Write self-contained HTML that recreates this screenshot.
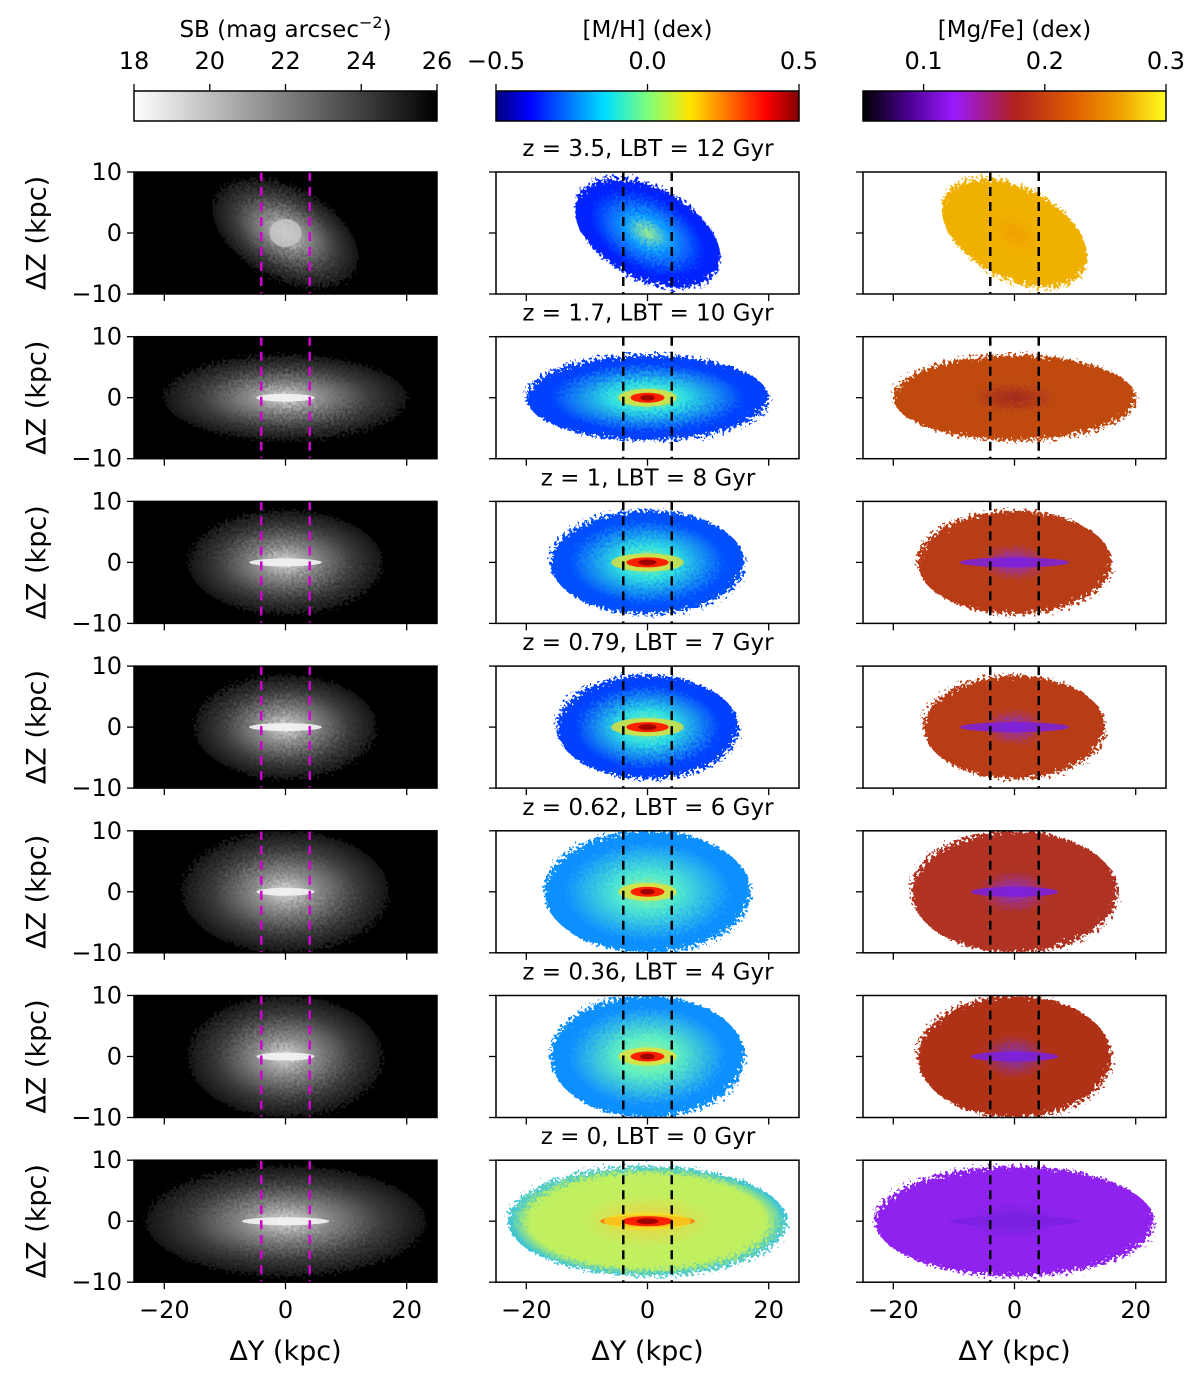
<!DOCTYPE html>
<html><head><meta charset="utf-8"><style>
html,body{margin:0;padding:0;background:#fff;}
svg{display:block;font-family:"DejaVu Sans","Liberation Sans",sans-serif;}
</style></head><body>
<svg id="fig" width="1200" height="1380" viewBox="0 0 1200 1380" xmlns="http://www.w3.org/2000/svg">
<defs>
<linearGradient id="cb-gray" x1="0" x2="1"><stop offset="0" stop-color="#fff"/><stop offset="1" stop-color="#000"/></linearGradient>
<linearGradient id="cb-jet" x1="0" x2="1">
<stop offset="0" stop-color="#00007f"/><stop offset="0.11" stop-color="#0000ff"/><stop offset="0.36" stop-color="#00e0ff"/><stop offset="0.5" stop-color="#7dff7a"/><stop offset="0.64" stop-color="#ffe600"/><stop offset="0.89" stop-color="#ff0000"/><stop offset="1" stop-color="#7f0000"/></linearGradient>
<linearGradient id="cb-gnu" x1="0" x2="1">
<stop offset="0" stop-color="#000000"/><stop offset="0.15" stop-color="#4a0090"/><stop offset="0.3" stop-color="#9a1aff"/><stop offset="0.5" stop-color="#b02020"/><stop offset="0.7" stop-color="#e06000"/><stop offset="0.85" stop-color="#f0a000"/><stop offset="1" stop-color="#ffff20"/></linearGradient>
<filter id="rough" x="-10%" y="-10%" width="120%" height="120%">
<feTurbulence type="fractalNoise" baseFrequency="0.35" numOctaves="2" seed="3" result="n"/>
<feDisplacementMap in="SourceGraphic" in2="n" scale="16"/>
</filter>
</defs>
<g id="root"></g>
</svg>
<script>
// data
const redshifts = ["3.5","1.7","1","0.79","0.62","0.36","0"];
const lbts = ["12","10","8","7","6","4","0"];
const rowRx = [13, 20, 16, 15, 17, 16, 23];      // kpc, extent of galaxy
const rowRy = [7.5, 7, 8.5, 8.5, 10, 10, 9];
const rowCx = [0, 0, 0, 0, 0, 0, 0];
const rowTilt = [28, 0, 0, 0, 0, 0, 0];
const coreRx = [3, 4, 5, 5, 4, 4, 6];
const metalEdge = ["#0020ff","#0040ff","#0050ff","#0040ff","#1090ff","#1090ff","#30c0e0"];
const metalMid = ["#10a0ff","#30e0e0","#30e0e0","#30e0e0","#50e8d0","#60f0c0","#c0f060"];
const mgfeFill = ["#f0b000","#c04a10","#b83c18","#b83c18","#b03020","#b03018","#9020f0"];
const mgfeCore = ["#f0a000","#a02820","#9030d0","#9030d0","#9030d0","#8030c0","#7020d8"];
const xTicks = [-20, 0, 20];
const yTicks = [10, 0, -10];
const sbTicks = [18,20,22,24,26];
const mhTicks = [-0.5,0.0,0.5];
const mgTicks = [0.1,0.2,0.3];

const NS="http://www.w3.org/2000/svg";
const root=document.getElementById('root');
const defs=document.querySelector('defs');
function mk(tag,attrs,parent){const e=document.createElementNS(NS,tag);for(const k in attrs)e.setAttribute(k,attrs[k]);(parent||root).appendChild(e);return e;}
const colL=[134,496,863], W=303, H=122;
function rowT(r){return 172+r*164.7;}
function sx(c,v){return colL[c]+(v+25)/50*W;}
function sy(r,v){return rowT(r)+(10-v)/20*H;}
function txt(x,y,s,size,anchor,parent){const t=mk('text',{x:x,y:y,'font-size':size,'text-anchor':anchor||'middle',fill:'#000'},parent);t.textContent=s;return t;}

// colorbars
const cbs=[{g:'cb-gray',t:"SB (mag arcsec",ticks:sbTicks,lo:18,hi:26,fmt:v=>String(v)},
 {g:'cb-jet',t:"[M/H] (dex)",ticks:mhTicks,lo:-0.5,hi:0.5,fmt:v=>v<0?"\u22120.5":v.toFixed(1)},
 {g:'cb-gnu',t:"[Mg/Fe] (dex)",ticks:mgTicks,lo:0.05,hi:0.3,fmt:v=>v.toFixed(1)}];
cbs.forEach((cb,c)=>{
 const g=mk('g',{});
 
 
 mk('rect',{x:colL[c],y:91,width:W,height:30,fill:'url(#'+cb.g+')',stroke:'#000','stroke-width':1.5},g);
 cb.ticks.forEach(v=>{const x=colL[c]+(v-cb.lo)/(cb.hi-cb.lo)*W;mk('line',{x1:x,x2:x,y1:84,y2:91,stroke:'#000','stroke-width':1.3},g);txt(x,69,cb.fmt(v),24,'middle',g);});
 const t=txt(colL[c]+W/2,37,cb.t,23,'middle',g);
 if(c===0){const s=mk('tspan',{'dy':-9,'font-size':16},t);s.textContent="\u22122";const s2=mk('tspan',{'dy':9},t);s2.textContent=")";}
});

for(let r=0;r<7;r++){
 const T=rowT(r);
 const tt=txt(648,T-16,"z = "+redshifts[r]+", LBT = "+lbts[r]+" Gyr",23);
 
 for(let c=0;c<3;c++){
  const g=mk('g',{});
  
  
  const cid='clip'+r+c;
  const cp=mk('clipPath',{id:cid},defs);mk('rect',{x:colL[c],y:T,width:W,height:H},cp);
  const inner=mk('g',{'clip-path':'url(#'+cid+')'},g);
  mk('rect',{x:colL[c],y:T,width:W,height:H,fill:c===0?'#000':'#fff'},inner);
  const cx=sx(c,rowCx[r]), cy=sy(r,0);
  const rx=rowRx[r]/50*W, ry=rowRy[r]/20*H;
  const gid='g'+r+c;
  const rg=mk('radialGradient',{id:gid},defs);
  let stops;
  if(c===0) stops=[[0,'#d8d8d8',1],[0.3,'#8a8a8a',1],[0.7,'#3a3a3a',1],[1,'#141414',1]];
  else if(c===1) stops=r===6?[[0,'#f0d040',1],[0.5,'#c0f060',1],[0.85,metalMid[r],1],[1,metalEdge[r],1]]:[[0,'#a0f090',1],[0.3,metalMid[r],1],[0.8,metalEdge[r],1],[1,metalEdge[r],1]];
  else stops=[[0,mgfeCore[r],1],[0.35,mgfeFill[r],1],[1,mgfeFill[r],1]];
  stops.forEach(s=>mk('stop',{offset:s[0],'stop-color':s[1],'stop-opacity':s[2]},rg));
  const e=mk('ellipse',{cx:cx,cy:cy,rx:rx,ry:ry,fill:'url(#'+gid+')',filter:'url(#rough)',transform:'rotate('+(rowTilt[r])+' '+cx+' '+cy+')'},inner);
  
  
  // core
  const crx=coreRx[r]/50*W;
  if(c===0){
   if(r===0) mk('ellipse',{cx:sx(c,0),cy:cy,rx:16,ry:14,fill:'#c8c8c8',opacity:0.8},inner);
   else mk('ellipse',{cx:sx(c,0),cy:cy,rx:crx*1.2,ry:4,fill:'#f4f4f4',opacity:0.9},inner);
  } else if(c===1){
   if(r===6) mk('ellipse',{cx:sx(c,0),cy:cy,rx:crx*1.3,ry:6,fill:'#ff7010',opacity:0.9},inner);
   if(r>0) mk('ellipse',{cx:sx(c,0),cy:cy,rx:crx*1.2,ry:9,fill:'#f8e020',opacity:0.7},inner);
   if(r>0) mk('ellipse',{cx:sx(c,0),cy:cy,rx:crx*0.7,ry:5,fill:'#ff2000'},inner);
   if(r>0) mk('ellipse',{cx:sx(c,0),cy:cy,rx:crx*0.3,ry:3,fill:'#a00000'},inner);
  } else if(r>1){
   mk('ellipse',{cx:sx(c,0),cy:cy,rx:crx*1.8,ry:5,fill:'#7a20e0',opacity:0.85},inner);
  }
  // dashed lines
  [-4,4].forEach(v=>{const x=sx(c,v);const l=mk('line',{x1:x,x2:x,y1:T,y2:T+H,stroke:c===0?'#d000d0':'#000','stroke-width':2.5,'stroke-dasharray':'9,6'},g);
   });
  mk('rect',{x:colL[c],y:T,width:W,height:H,fill:'none',stroke:'#000','stroke-width':1.5},g);
  yTicks.forEach(v=>{const y=sy(r,v);mk('line',{x1:colL[c]-7,x2:colL[c],y1:y,y2:y,stroke:'#000','stroke-width':1.3},g);
   if(c===0){const t=txt(colL[c]-12,y+8,v<0?"\u221210":String(v),24,'end',g);}});
  xTicks.forEach(v=>{const x=sx(c,v);mk('line',{x1:x,x2:x,y1:T+H,y2:T+H+7,stroke:'#000','stroke-width':1.3},g);
   if(r===6) txt(x,1318,v<0?"\u221220":String(v),24,'middle',g);});
 }
 const yl=txt(38,T+H/2,"\u0394Z (kpc)",27);
 yl.setAttribute('transform','rotate(-90 38 '+(T+H/2)+')');
 yl.setAttribute('dominant-baseline','middle');
 
}
for(let c=0;c<3;c++){const t=txt(colL[c]+W/2,1360,"\u0394Y (kpc)",27);
 }
</script>
</body></html>
